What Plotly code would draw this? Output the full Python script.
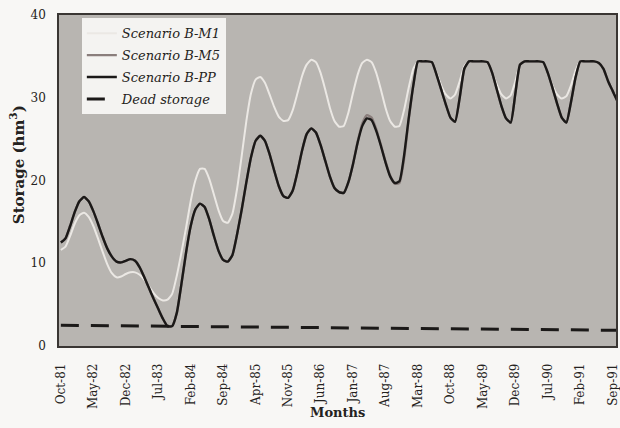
import pandas as pd
import plotly.graph_objects as go

# Monthly time axis, Oct-81 onwards
months = [d.strftime("%b-%y") for d in pd.date_range("1981-10-01", periods=121, freq="MS")]
tick_labels = ["Oct-81", "May-82", "Dec-82", "Jul-83", "Feb-84", "Sep-84", "Apr-85",
               "Nov-85", "Jun-86", "Jan-87", "Aug-87", "Mar-88", "Oct-88", "May-89",
               "Dec-89", "Jul-90", "Feb-91", "Sep-91"]

# Reservoir storage (hm3) per scenario
storage_b_m1 = [
    11.6, 12.0, 13.3, 14.8, 15.8, 16.1, 15.6, 14.5, 13.0, 11.4,
    9.9, 8.8, 8.3, 8.4, 8.7, 8.9, 8.9, 8.6, 8.0, 7.2,
    6.4, 5.8, 5.5, 5.6, 6.3, 8.5, 11.3, 14.3, 17.5, 20.0,
    21.4, 21.4, 20.2, 18.3, 16.4, 15.1, 14.9, 16.0, 19.0, 23.0,
    27.2, 30.5, 32.2, 32.5, 31.8, 30.4, 28.9, 27.7, 27.2, 27.3,
    28.5, 30.5, 32.6, 34.0, 34.6, 34.3, 33.0, 31.0, 28.8, 27.2,
    26.5, 26.6, 28.2, 30.6, 32.8, 34.2, 34.6, 34.3, 33.0, 31.0,
    28.8, 27.2, 26.5, 26.6, 28.5, 31.2, 33.5, 34.4, 34.4, 34.4,
    34.3, 33.0, 31.5, 30.4, 29.9, 30.4, 32.0, 33.8, 34.4, 34.4,
    34.4, 34.4, 34.3, 33.0, 31.6, 30.4, 29.9, 30.3, 32.0, 34.0,
    34.4, 34.4, 34.4, 34.4, 34.3, 33.0, 31.5, 30.4, 29.9, 30.2,
    31.5, 33.3, 34.4, 34.4, 34.4, 34.4, 34.2, 33.5, 32.0, 30.8,
    30.0,
]
storage_b_m5 = [
    12.5, 13.0, 14.5, 16.2, 17.5, 18.0, 17.5, 16.3, 14.8, 13.2,
    11.8, 10.8, 10.2, 10.1, 10.3, 10.5, 10.3, 9.5, 8.3, 7.0,
    5.7, 4.5, 3.3, 2.4, 2.4, 4.0, 7.5, 11.3, 14.5, 16.5,
    17.2, 16.8, 15.3, 13.3, 11.5, 10.4, 10.2, 11.0, 13.5, 16.5,
    19.8, 22.8, 24.8, 25.4, 24.8, 23.2, 21.2, 19.3, 18.1, 17.9,
    18.8, 21.0, 23.6, 25.6, 26.3, 25.8, 24.3, 22.4, 20.5, 19.1,
    18.6, 18.5, 19.8, 22.0, 24.7, 26.9, 27.9, 27.6, 26.2, 24.3,
    22.3, 20.6, 19.6, 19.7, 22.6, 27.3, 31.5, 34.4, 34.4, 34.4,
    34.3, 32.8, 31.0, 29.2, 27.6, 27.1, 30.0, 33.5, 34.4, 34.4,
    34.4, 34.4, 34.3, 33.0, 31.0, 29.0, 27.5, 27.0, 30.5, 34.0,
    34.4, 34.4, 34.4, 34.4, 34.3, 33.0, 31.2, 29.3, 27.6, 27.0,
    29.5, 32.5, 34.4, 34.4, 34.4, 34.4, 34.2, 33.5, 32.0, 30.8,
    29.6,
]
storage_b_pp = [
    12.5, 13.0, 14.5, 16.2, 17.5, 18.0, 17.5, 16.3, 14.8, 13.2,
    11.8, 10.8, 10.2, 10.1, 10.3, 10.5, 10.3, 9.5, 8.3, 7.0,
    5.7, 4.5, 3.3, 2.4, 2.4, 4.0, 7.5, 11.3, 14.5, 16.5,
    17.2, 16.8, 15.3, 13.3, 11.5, 10.4, 10.2, 11.0, 13.5, 16.5,
    19.8, 22.8, 24.8, 25.4, 24.8, 23.2, 21.2, 19.3, 18.1, 17.9,
    18.8, 21.0, 23.6, 25.6, 26.3, 25.8, 24.3, 22.4, 20.5, 19.1,
    18.6, 18.5, 19.8, 22.0, 24.6, 26.6, 27.5, 27.3, 26.0, 24.2,
    22.2, 20.5, 19.7, 19.9, 23.0, 27.5, 31.5, 34.4, 34.4, 34.4,
    34.3, 32.8, 31.0, 29.2, 27.6, 27.1, 30.0, 33.5, 34.4, 34.4,
    34.4, 34.4, 34.3, 33.0, 31.0, 29.0, 27.5, 27.0, 30.5, 34.0,
    34.4, 34.4, 34.4, 34.4, 34.3, 33.0, 31.2, 29.3, 27.6, 27.0,
    29.5, 32.5, 34.4, 34.4, 34.4, 34.4, 34.2, 33.5, 32.0, 30.8,
    29.6,
]
# Dead storage level at the first and last month
dead_storage_months = ["Oct-81", "Oct-91"]
dead_storage = [2.5, 1.9]

SERIF = "DejaVu Serif"
TEXT = "#242220"
SMOOTH = 0.5

fig = go.Figure()
fig.add_trace(go.Scatter(x=months, y=storage_b_m1, mode="lines", name="Scenario B-M1",
                         legendgroup="a", line=dict(color="#ebe8e4", width=2, shape="spline", smoothing=SMOOTH)))
fig.add_trace(go.Scatter(x=months, y=storage_b_m5, mode="lines", name="Scenario B-M5",
                         legendgroup="b", line=dict(color="#8a7e7c", width=2.4, shape="spline", smoothing=SMOOTH)))
fig.add_trace(go.Scatter(x=months, y=storage_b_pp, mode="lines", name="Scenario B-PP",
                         legendgroup="c", line=dict(color="#1b1918", width=2.4, shape="spline", smoothing=SMOOTH)))
fig.add_trace(go.Scatter(x=dead_storage_months, y=dead_storage, mode="lines", name="Dead storage",
                         legendgroup="d", line=dict(color="#1b1918", width=3, dash="18px,12px")))

fig.update_layout(
    width=620, height=428,
    margin=dict(l=59, r=0, t=15, b=82),
    paper_bgcolor="#f8f7f5",
    plot_bgcolor="#b8b5b1",
    font=dict(family=SERIF, color=TEXT),
    showlegend=True,
    legend=dict(
        x=0.041, y=0.99, xanchor="left", yanchor="top",
        bgcolor="#f4f3f1", borderwidth=0,
        font=dict(family=SERIF, size=13, style="italic", color=TEXT),
        traceorder="grouped", tracegroupgap=2,
    ),
    xaxis=dict(
        type="category", categoryorder="array", categoryarray=months,
        range=[-0.4, 119.7],
        tickmode="array", tickvals=tick_labels, ticktext=tick_labels,
        tickangle=-90, ticks="", ticklabelstandoff=11,
        tickfont=dict(family=SERIF, size=12, color=TEXT),
        showgrid=False, zeroline=False,
        showline=True, linecolor="#3a3633", linewidth=1.5, mirror=True,
    ),
    yaxis=dict(
        range=[0, 40], tickvals=[0, 10, 20, 30, 40],
        ticks="", ticklabelstandoff=9,
        tickfont=dict(family=SERIF, size=12, color=TEXT),
        showgrid=False, zeroline=False,
        showline=True, linecolor="#3a3633", linewidth=1.5, mirror=True,
    ),
    annotations=[
        dict(text="Storage (hm<sup>3</sup>)", xref="paper", yref="paper", x=-0.075, y=0.547,
             xanchor="center", yanchor="middle", textangle=-90, showarrow=False,
             font=dict(family=SERIF, size=15, color=TEXT, weight="bold")),
        dict(text="Months", xref="paper", yref="paper", x=0.5, y=-0.202,
             xanchor="center", yanchor="middle", showarrow=False,
             font=dict(family=SERIF, size=13, color=TEXT, weight="bold")),
    ],
)

fig.write_html("out.html")
